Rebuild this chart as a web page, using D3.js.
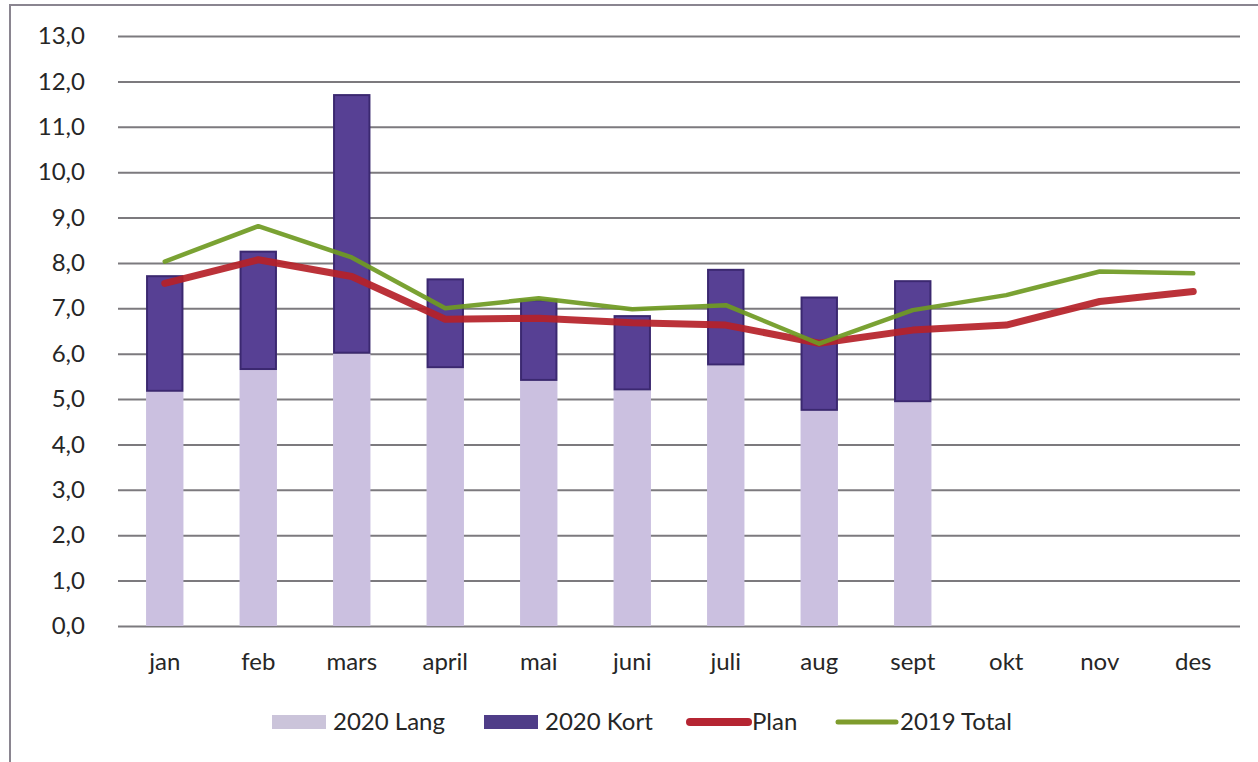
<!DOCTYPE html>
<html>
<head>
<meta charset="utf-8">
<script src="https://cdn.jsdelivr.net/npm/d3@7"></script>
<style>
  html, body { margin: 0; padding: 0; background: #ffffff; }
  svg { display: block; font-family: Lato, "Noto Sans", sans-serif; }
</style>
</head>
<body>
<svg id="chart" width="1258" height="762"></svg>
<script>
// Months shown on the category axis
const months = ["jan", "feb", "mars", "april", "mai", "juni", "juli", "aug", "sept", "okt", "nov", "des"];

// 2020 stacked bars (long-term and short-term parts), data through September
const lang2020 = [5.16, 5.64, 6.00, 5.68, 5.40, 5.19, 5.74, 4.74, 4.93, null, null, null];
const kort2020 = [2.57, 2.63, 5.72, 1.98, 1.80, 1.66, 2.13, 2.52, 2.69, null, null, null];

// Plan line and the 2019 total line
const plan = [7.55, 8.07, 7.70, 6.76, 6.78, 6.68, 6.63, 6.23, 6.52, 6.63, 7.15, 7.37];
const total2019 = [8.03, 8.81, 8.12, 7.00, 7.22, 6.98, 7.07, 6.22, 6.96, 7.29, 7.81, 7.77];

// Value axis ticks
const yTicks = d3.range(0, 14, 1);

// Legend entries
const legendItems = [
  { label: "2020 Lang", kind: "box", color: "#cbc4da" },
  { label: "2020 Kort", kind: "box", color: "#4f3d88" },
  { label: "Plan", kind: "line", color: "#b52532", width: 8 },
  { label: "2019 Total", kind: "line", color: "#7e9c2c", width: 5 }
];

const svg = d3.select("#chart");
const nb = d3.formatLocale({ decimal: ",", thousands: " ", grouping: [3], currency: ["", " kr"] });
const fmt = nb.format(".1f");

const x = d3.scaleBand().domain(months).range([118, 1240]).paddingInner(0.6).paddingOuter(0.3);
const y = d3.scaleLinear().domain([0, 13]).range([626, 36]);
const cx = m => x(m) + x.bandwidth() / 2;

// Chart frame
svg.append("rect")
  .attr("x", 10).attr("y", 5).attr("width", 1300).attr("height", 800)
  .attr("fill", "none").attr("stroke", "#8a8590").attr("stroke-width", 2);

// Horizontal gridlines and value labels
const yAxis = d3.axisLeft(y).tickValues(yTicks).tickFormat(fmt).tickSize(-(1240 - 118)).tickPadding(33);
const gy = svg.append("g").attr("transform", "translate(118,0)").call(yAxis);
gy.select(".domain").remove();
gy.selectAll(".tick line").attr("stroke", "#7c7a7e").attr("stroke-width", 2);
gy.selectAll(".tick text")
  .attr("fill", "#262626").attr("font-size", 24).attr("font-family", "Lato, sans-serif");

// Category labels
const xAxis = d3.axisBottom(x).tickSize(0).tickPadding(27);
const gx = svg.append("g").attr("transform", "translate(0,626)").call(xAxis);
gx.select(".domain").remove();
gx.selectAll(".tick text").attr("fill", "#262626").attr("font-size", 24).attr("font-family", "Lato, sans-serif");

// Stacked bars
const barData = months.map((m, i) => ({ m, lang: lang2020[i], kort: kort2020[i] })).filter(d => d.lang != null);

svg.append("g").selectAll("rect").data(barData).join("rect")
  .attr("x", d => x(d.m)).attr("width", x.bandwidth())
  .attr("y", d => y(d.lang)).attr("height", d => y(0) - y(d.lang))
  .attr("fill", "#cbc0e0");

svg.append("g").selectAll("rect").data(barData).join("rect")
  .attr("x", d => x(d.m) + 1).attr("width", x.bandwidth() - 2)
  .attr("y", d => y(d.lang + d.kort) + 1).attr("height", d => y(d.lang) - y(d.lang + d.kort) - 2)
  .attr("fill", "#574094").attr("stroke", "#3b2870").attr("stroke-width", 2);

// Lines
const line = d3.line().x(d => cx(d.m)).y(d => y(d.v));

svg.append("path")
  .datum(months.map((m, i) => ({ m, v: plan[i] })))
  .attr("d", line).attr("fill", "none")
  .attr("stroke", "#b52128").attr("stroke-width", 7)
  .attr("stroke-linecap", "round").attr("stroke-linejoin", "round").attr("opacity", 0.92);

svg.append("path")
  .datum(months.map((m, i) => ({ m, v: total2019[i] })))
  .attr("d", line).attr("fill", "none")
  .attr("stroke", "#6f9a22").attr("stroke-width", 4.5)
  .attr("stroke-linecap", "round").attr("stroke-linejoin", "round").attr("opacity", 0.92);

// Legend
const legendX = [272, 484, 688, 836];
const lg = svg.append("g").attr("transform", "translate(0,722)");
legendItems.forEach((d, i) => {
  const g = lg.append("g").attr("transform", `translate(${legendX[i]},0)`);
  if (d.kind === "box") {
    g.append("rect").attr("x", 0).attr("y", -7).attr("width", 54).attr("height", 14).attr("fill", d.color);
  } else {
    g.append("line").attr("x1", 2).attr("x2", 60).attr("y1", 0).attr("y2", 0)
      .attr("stroke", d.color).attr("stroke-width", d.width).attr("stroke-linecap", "round");
  }
  g.append("text")
    .attr("x", d.kind === "box" ? 61 : 64).attr("y", 0).attr("dy", "0.35em")
    .attr("font-size", 24).attr("fill", "#262626").text(d.label);
});
</script>
</body>
</html>
